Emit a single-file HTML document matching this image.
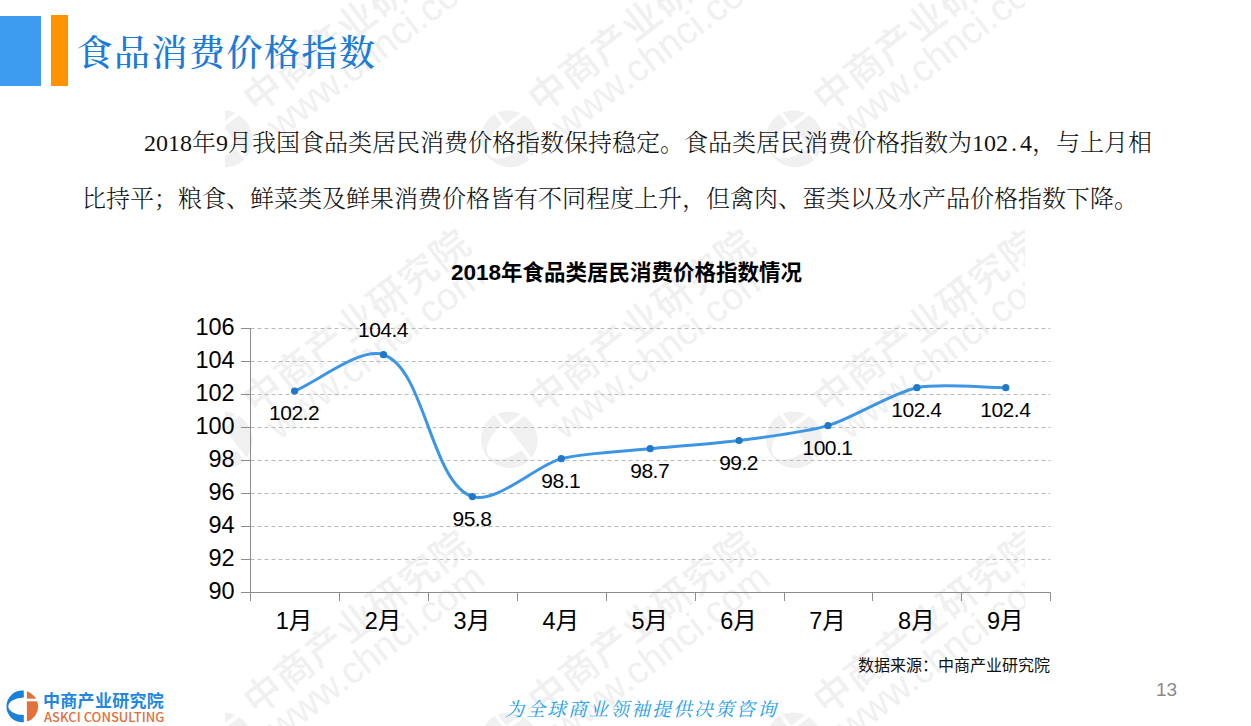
<!DOCTYPE html>
<html lang="zh-CN"><head><meta charset="utf-8"><title>食品消费价格指数</title>
<style>
html,body{margin:0;padding:0;background:#fff;}
body{width:1251px;height:726px;position:relative;overflow:hidden;}
.abs{position:absolute;}
.chart{position:absolute;left:0;top:0;}
.g line{stroke:#bababa;stroke-width:1;stroke-dasharray:4 3;}
.a line{stroke:#8c8c8c;stroke-width:1;}
.yl text{font-family:"Liberation Sans","Noto Sans CJK SC",sans-serif;font-size:23.5px;fill:#000;text-anchor:end;letter-spacing:0px;}
.xl text{font-family:"Liberation Sans","Noto Sans CJK SC",sans-serif;font-size:23.5px;fill:#000;text-anchor:middle;}
.dl text{font-family:"Liberation Sans","Noto Sans CJK SC",sans-serif;font-size:21px;letter-spacing:-0.5px;fill:#000;text-anchor:middle;}
.wc{font-family:"Noto Sans CJK SC",sans-serif;font-size:38px;font-weight:500;letter-spacing:1.2px;}
.wl{font-family:"Liberation Sans","DejaVu Sans",sans-serif;font-size:38px;}
.ct{font-family:"Liberation Sans","Noto Sans CJK SC",sans-serif;font-size:21.5px;font-weight:bold;fill:#000;}
#bar1{left:0;top:16px;width:41px;height:70px;background:#3e9cf0;}
#bar2{left:51px;top:15px;width:17px;height:71px;background:#ff9400;}
#title{left:76.5px;top:29px;font-family:"Liberation Serif","Noto Serif CJK SC",serif;font-weight:500;font-size:36px;letter-spacing:1.5px;line-height:50px;color:#1b7bd6;white-space:nowrap;}
.p{font-family:"Liberation Serif","Noto Serif CJK SC",serif;font-weight:300;font-size:24px;line-height:30px;color:#111;white-space:nowrap;}
.p .d{display:inline-block;width:12px;text-align:center;}
#l1{left:144px;top:128px;}
#l2{left:82px;top:184px;}
#src{left:858px;top:655px;font-family:"Liberation Sans","Noto Sans CJK SC",sans-serif;font-size:16px;line-height:22px;color:#111;white-space:nowrap;}
#pg{left:1156px;top:678px;font-family:"Liberation Sans",sans-serif;font-size:19px;line-height:24px;color:#8a8a8a;}
#slogan{left:505px;top:697px;font-family:"Liberation Serif","Noto Serif CJK SC",serif;font-style:italic;font-size:19px;line-height:26px;color:#1ea0ea;white-space:nowrap;letter-spacing:2px;}
#logo{left:0;top:686px;}
#lg1{left:43px;top:690.5px;font-family:"Liberation Sans","Noto Sans CJK SC",sans-serif;font-size:17px;line-height:22px;color:#1e88e0;font-weight:bold;white-space:nowrap;letter-spacing:0.3px;}
#lg2{left:44px;top:709px;font-family:"Noto Sans CJK SC",sans-serif;font-weight:500;font-size:13px;line-height:16px;color:#e0703c;white-space:nowrap;letter-spacing:0px;}
</style></head><body>
<svg class="chart" width="1251" height="726" viewBox="0 0 1251 726"><clipPath id="wmclip"><rect x="225" y="0" width="800" height="726"/></clipPath><g clip-path="url(#wmclip)" fill="#f0f0f0"><g transform="translate(224,139) rotate(-37.5)">
<g transform="scale(1.824) translate(-22.3,-20.4)"><path d="M24.3,4.55 A15.9,15.9 0 1 0 24.3,36.25 L24.3,29 A16,8.7 0 0 1 24.3,11.6 Z"/><path d="M26.2,5.1 A15.9,15.9 0 0 1 26.2,35.7 Z"/><rect x="25" y="12.9" width="14" height="2.2" fill="#fff"/></g>
<text class="wc" x="40.5" y="0">中商产业研究院</text>
<text class="wl" x="43.3" y="34.4">www.chnci.com</text>
</g><g transform="translate(509,139) rotate(-37.5)">
<g transform="scale(1.824) translate(-22.3,-20.4)"><path d="M24.3,4.55 A15.9,15.9 0 1 0 24.3,36.25 L24.3,29 A16,8.7 0 0 1 24.3,11.6 Z"/><path d="M26.2,5.1 A15.9,15.9 0 0 1 26.2,35.7 Z"/><rect x="25" y="12.9" width="14" height="2.2" fill="#fff"/></g>
<text class="wc" x="40.5" y="0">中商产业研究院</text>
<text class="wl" x="43.3" y="34.4">www.chnci.com</text>
</g><g transform="translate(794,139) rotate(-37.5)">
<g transform="scale(1.824) translate(-22.3,-20.4)"><path d="M24.3,4.55 A15.9,15.9 0 1 0 24.3,36.25 L24.3,29 A16,8.7 0 0 1 24.3,11.6 Z"/><path d="M26.2,5.1 A15.9,15.9 0 0 1 26.2,35.7 Z"/><rect x="25" y="12.9" width="14" height="2.2" fill="#fff"/></g>
<text class="wc" x="40.5" y="0">中商产业研究院</text>
<text class="wl" x="43.3" y="34.4">www.chnci.com</text>
</g><g transform="translate(224,440) rotate(-37.5)">
<g transform="scale(1.824) translate(-22.3,-20.4)"><path d="M24.3,4.55 A15.9,15.9 0 1 0 24.3,36.25 L24.3,29 A16,8.7 0 0 1 24.3,11.6 Z"/><path d="M26.2,5.1 A15.9,15.9 0 0 1 26.2,35.7 Z"/><rect x="25" y="12.9" width="14" height="2.2" fill="#fff"/></g>
<text class="wc" x="40.5" y="0">中商产业研究院</text>
<text class="wl" x="43.3" y="34.4">www.chnci.com</text>
</g><g transform="translate(509,440) rotate(-37.5)">
<g transform="scale(1.824) translate(-22.3,-20.4)"><path d="M24.3,4.55 A15.9,15.9 0 1 0 24.3,36.25 L24.3,29 A16,8.7 0 0 1 24.3,11.6 Z"/><path d="M26.2,5.1 A15.9,15.9 0 0 1 26.2,35.7 Z"/><rect x="25" y="12.9" width="14" height="2.2" fill="#fff"/></g>
<text class="wc" x="40.5" y="0">中商产业研究院</text>
<text class="wl" x="43.3" y="34.4">www.chnci.com</text>
</g><g transform="translate(794,440) rotate(-37.5)">
<g transform="scale(1.824) translate(-22.3,-20.4)"><path d="M24.3,4.55 A15.9,15.9 0 1 0 24.3,36.25 L24.3,29 A16,8.7 0 0 1 24.3,11.6 Z"/><path d="M26.2,5.1 A15.9,15.9 0 0 1 26.2,35.7 Z"/><rect x="25" y="12.9" width="14" height="2.2" fill="#fff"/></g>
<text class="wc" x="40.5" y="0">中商产业研究院</text>
<text class="wl" x="43.3" y="34.4">www.chnci.com</text>
</g><g transform="translate(224,741) rotate(-37.5)">
<g transform="scale(1.824) translate(-22.3,-20.4)"><path d="M24.3,4.55 A15.9,15.9 0 1 0 24.3,36.25 L24.3,29 A16,8.7 0 0 1 24.3,11.6 Z"/><path d="M26.2,5.1 A15.9,15.9 0 0 1 26.2,35.7 Z"/><rect x="25" y="12.9" width="14" height="2.2" fill="#fff"/></g>
<text class="wc" x="40.5" y="0">中商产业研究院</text>
<text class="wl" x="43.3" y="34.4">www.chnci.com</text>
</g><g transform="translate(509,741) rotate(-37.5)">
<g transform="scale(1.824) translate(-22.3,-20.4)"><path d="M24.3,4.55 A15.9,15.9 0 1 0 24.3,36.25 L24.3,29 A16,8.7 0 0 1 24.3,11.6 Z"/><path d="M26.2,5.1 A15.9,15.9 0 0 1 26.2,35.7 Z"/><rect x="25" y="12.9" width="14" height="2.2" fill="#fff"/></g>
<text class="wc" x="40.5" y="0">中商产业研究院</text>
<text class="wl" x="43.3" y="34.4">www.chnci.com</text>
</g><g transform="translate(794,741) rotate(-37.5)">
<g transform="scale(1.824) translate(-22.3,-20.4)"><path d="M24.3,4.55 A15.9,15.9 0 1 0 24.3,36.25 L24.3,29 A16,8.7 0 0 1 24.3,11.6 Z"/><path d="M26.2,5.1 A15.9,15.9 0 0 1 26.2,35.7 Z"/><rect x="25" y="12.9" width="14" height="2.2" fill="#fff"/></g>
<text class="wc" x="40.5" y="0">中商产业研究院</text>
<text class="wl" x="43.3" y="34.4">www.chnci.com</text>
</g></g></svg>
<div class="abs" id="bar1"></div>
<div class="abs" id="bar2"></div>
<div class="abs" id="title">食品消费价格指数</div>
<div class="abs p" id="l1">2018年9月我国食品类居民消费价格指数保持稳定。食品类居民消费价格指数为102<span class="d">.</span>4，与上月相</div>
<div class="abs p" id="l2">比持平；粮食、鲜菜类及鲜果消费价格皆有不同程度上升，但禽肉、蛋类以及水产品价格指数下降。</div>
<svg class="chart" width="1251" height="726" viewBox="0 0 1251 726">
<text class="ct" x="451" y="280"><tspan style="font-size:22.5px">2018</tspan>年食品类居民消费价格指数情况</text>
<g class="g"><line x1="250.5" y1="559.5" x2="1050.5" y2="559.5"/><line x1="250.5" y1="526.5" x2="1050.5" y2="526.5"/><line x1="250.5" y1="493.5" x2="1050.5" y2="493.5"/><line x1="250.5" y1="460.5" x2="1050.5" y2="460.5"/><line x1="250.5" y1="427.5" x2="1050.5" y2="427.5"/><line x1="250.5" y1="394.5" x2="1050.5" y2="394.5"/><line x1="250.5" y1="361.5" x2="1050.5" y2="361.5"/><line x1="250.5" y1="328.5" x2="1050.5" y2="328.5"/></g>
<g class="a"><line x1="250.5" y1="328" x2="250.5" y2="601"/><line x1="241" y1="592.5" x2="1050.5" y2="592.5"/><line x1="241" y1="592.5" x2="250.5" y2="592.5"/><line x1="241" y1="559.5" x2="250.5" y2="559.5"/><line x1="241" y1="526.5" x2="250.5" y2="526.5"/><line x1="241" y1="493.5" x2="250.5" y2="493.5"/><line x1="241" y1="460.5" x2="250.5" y2="460.5"/><line x1="241" y1="427.5" x2="250.5" y2="427.5"/><line x1="241" y1="394.5" x2="250.5" y2="394.5"/><line x1="241" y1="361.5" x2="250.5" y2="361.5"/><line x1="241" y1="328.5" x2="250.5" y2="328.5"/><line x1="250.5" y1="592.5" x2="250.5" y2="601"/><line x1="339.5" y1="592.5" x2="339.5" y2="601"/><line x1="428.5" y1="592.5" x2="428.5" y2="601"/><line x1="517.5" y1="592.5" x2="517.5" y2="601"/><line x1="606.5" y1="592.5" x2="606.5" y2="601"/><line x1="695.5" y1="592.5" x2="695.5" y2="601"/><line x1="784.5" y1="592.5" x2="784.5" y2="601"/><line x1="872.5" y1="592.5" x2="872.5" y2="601"/><line x1="961.5" y1="592.5" x2="961.5" y2="601"/><line x1="1050.5" y1="592.5" x2="1050.5" y2="601"/></g>
<g class="yl"><text x="234.6" y="598.9">90</text><text x="234.6" y="565.9">92</text><text x="234.6" y="532.9">94</text><text x="234.6" y="499.9">96</text><text x="234.6" y="466.9">98</text><text x="234.6" y="433.9">100</text><text x="234.6" y="400.9">102</text><text x="234.6" y="367.9">104</text><text x="234.6" y="334.9">106</text></g>
<g class="xl"><text x="294.1" y="629">1月</text><text x="383.0" y="629">2月</text><text x="471.9" y="629">3月</text><text x="560.8" y="629">4月</text><text x="649.7" y="629">5月</text><text x="738.6" y="629">6月</text><text x="827.5" y="629">7月</text><text x="916.4" y="629">8月</text><text x="1005.3" y="629">9月</text></g>
<path d="M294.64,391.00 C317.76,381.56 359.77,347.04 383.53,354.70 C424.97,368.05 430.88,483.58 472.42,496.60 C496.40,504.12 537.01,465.04 561.31,458.65 C583.80,452.73 627.07,451.11 650.20,448.75 C673.29,446.39 716.07,443.49 739.09,440.50 C762.33,437.48 805.49,432.23 827.98,425.65 C852.10,418.60 892.25,392.74 916.87,387.70 C939.51,383.07 982.64,387.70 1005.76,387.70" fill="none" stroke="#3d96e3" stroke-width="3" stroke-linecap="round" stroke-linejoin="round"/>
<g fill="#1f78c8"><circle cx="294.6" cy="391.0" r="3.6"/><circle cx="383.5" cy="354.7" r="3.6"/><circle cx="472.4" cy="496.6" r="3.6"/><circle cx="561.3" cy="458.7" r="3.6"/><circle cx="650.2" cy="448.7" r="3.6"/><circle cx="739.1" cy="440.5" r="3.6"/><circle cx="828.0" cy="425.7" r="3.6"/><circle cx="916.9" cy="387.7" r="3.6"/><circle cx="1005.8" cy="387.7" r="3.6"/></g>
<g class="dl"><text x="294.1" y="420.4">102.2</text><text x="383.0" y="336.7">104.4</text><text x="471.9" y="526.0">95.8</text><text x="560.8" y="488.1">98.1</text><text x="649.7" y="478.1">98.7</text><text x="738.6" y="469.9">99.2</text><text x="827.5" y="455.1">100.1</text><text x="916.4" y="417.1">102.4</text><text x="1005.3" y="417.1">102.4</text></g>
</svg>
<div class="abs" id="src">数据来源：中商产业研究院</div>
<div class="abs" id="pg">13</div>
<div class="abs" id="slogan">为全球商业领袖提供决策咨询</div>
<svg class="abs" id="logo" width="42" height="40" viewBox="0 0 42 40">
<path d="M23.8,4.57 A15.9,15.9 0 1 0 23.8,36.23 L23.8,29 A15.5,8.7 0 0 1 23.8,11.6 Z" fill="#1b80d8"/>
<path d="M26.9,5.18 A15.9,15.9 0 0 1 26.9,35.62 Z" fill="#e0703c"/><rect x="26" y="12.7" width="14" height="2.6" fill="#fff"/>
</svg>
<div class="abs" id="lg1">中商产业研究院</div>
<div class="abs" id="lg2">ASKCI CONSULTING</div>
</body></html>
